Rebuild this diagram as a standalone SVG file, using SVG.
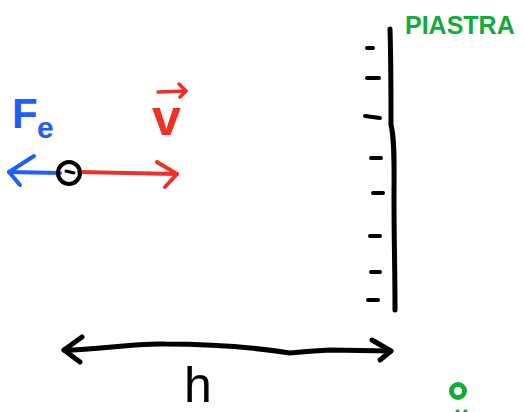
<svg xmlns="http://www.w3.org/2000/svg" width="525" height="412" viewBox="0 0 525 412">
<style>
.s{fill:none;stroke-linecap:round;stroke-linejoin:round}
.k{stroke:#000}
.b{stroke:#1f5dfc}
.r{stroke:#f03024}
.g{stroke:#13ab3a}
.t{font-family:"Liberation Sans",Arial,sans-serif}
</style>
<rect width="525" height="412" fill="#fff"/>
<g id="connectors">
<g id="force-fe">
<path class="s b" stroke-width="4" d="M60 173 L9 172"/>
<path class="s b" stroke-width="4" d="M34 156 L9 172 L20 185"/>
</g>
<g id="velocity-v">
<path class="s r" stroke-width="4" d="M79 172 L177 174"/>
<path class="s r" stroke-width="4" d="M157 162 L177 174 L165 187"/>
</g>
<g id="distance-h">
<path class="s k" stroke-width="5" d="M64 350 C100 350 130 343 165 344 C210 344 245 346 290 353 C300 352 310 351 330 350 L391 351"/>
<path class="s k" stroke-width="5" d="M82 337 L64 350 L80 362"/>
<path class="s k" stroke-width="5" d="M372 340 L391 351 L380 360"/>
</g>
</g>
<g id="particle">
<circle cx="69" cy="173" r="11" fill="none" stroke="#000" stroke-width="4"/>
<path class="s k" stroke-width="3" d="M66 171 L74 173"/>
</g>
<g id="label-fe">
<text class="t" x="12" y="128" font-size="42" font-weight="bold" fill="#1f5dfc">F</text>
<text class="t" x="37" y="138" font-size="30" font-weight="bold" fill="#1f5dfc">e</text>
</g>
<g id="label-v">
<text class="t" x="152" y="135" font-size="52" font-weight="bold" fill="#f03024">v</text>
<path class="s r" stroke-width="3.5" d="M158 92 L186 91"/>
<path class="s r" stroke-width="3.5" d="M179 84 L186 91 L180 97"/>
</g>
<g id="piastra">
<path class="s k" stroke-width="5" d="M390 29 C391 60 391 95 391 125 C395 140 394 170 394 200 C394 240 395 270 395 310"/>
<g class="s k" stroke-width="4">
<path d="M367 48 L373 48"/>
<path d="M367 78 L379 78"/>
<path d="M365 116 L380 118"/>
<path d="M371 158 L381 158"/>
<path d="M373 193 L383 193"/>
<path d="M370 236 L380 236"/>
<path d="M371 272 L380 272"/>
<path d="M368 300 L378 300"/>
</g>
<text class="t" x="405" y="34" font-size="25" font-weight="bold" fill="#13ab3a">PIASTRA</text>
</g>
<g id="label-h">
<text class="t" x="184" y="402" font-size="50" fill="#000">h</text>
</g>
<g id="label-o">
<circle cx="458" cy="391" r="6.5" fill="none" stroke="#13ab3a" stroke-width="5"/>
<path class="s g" stroke-width="3" d="M457 411 L458 411 M465 411 L466 411"/>
</g>
</svg>
